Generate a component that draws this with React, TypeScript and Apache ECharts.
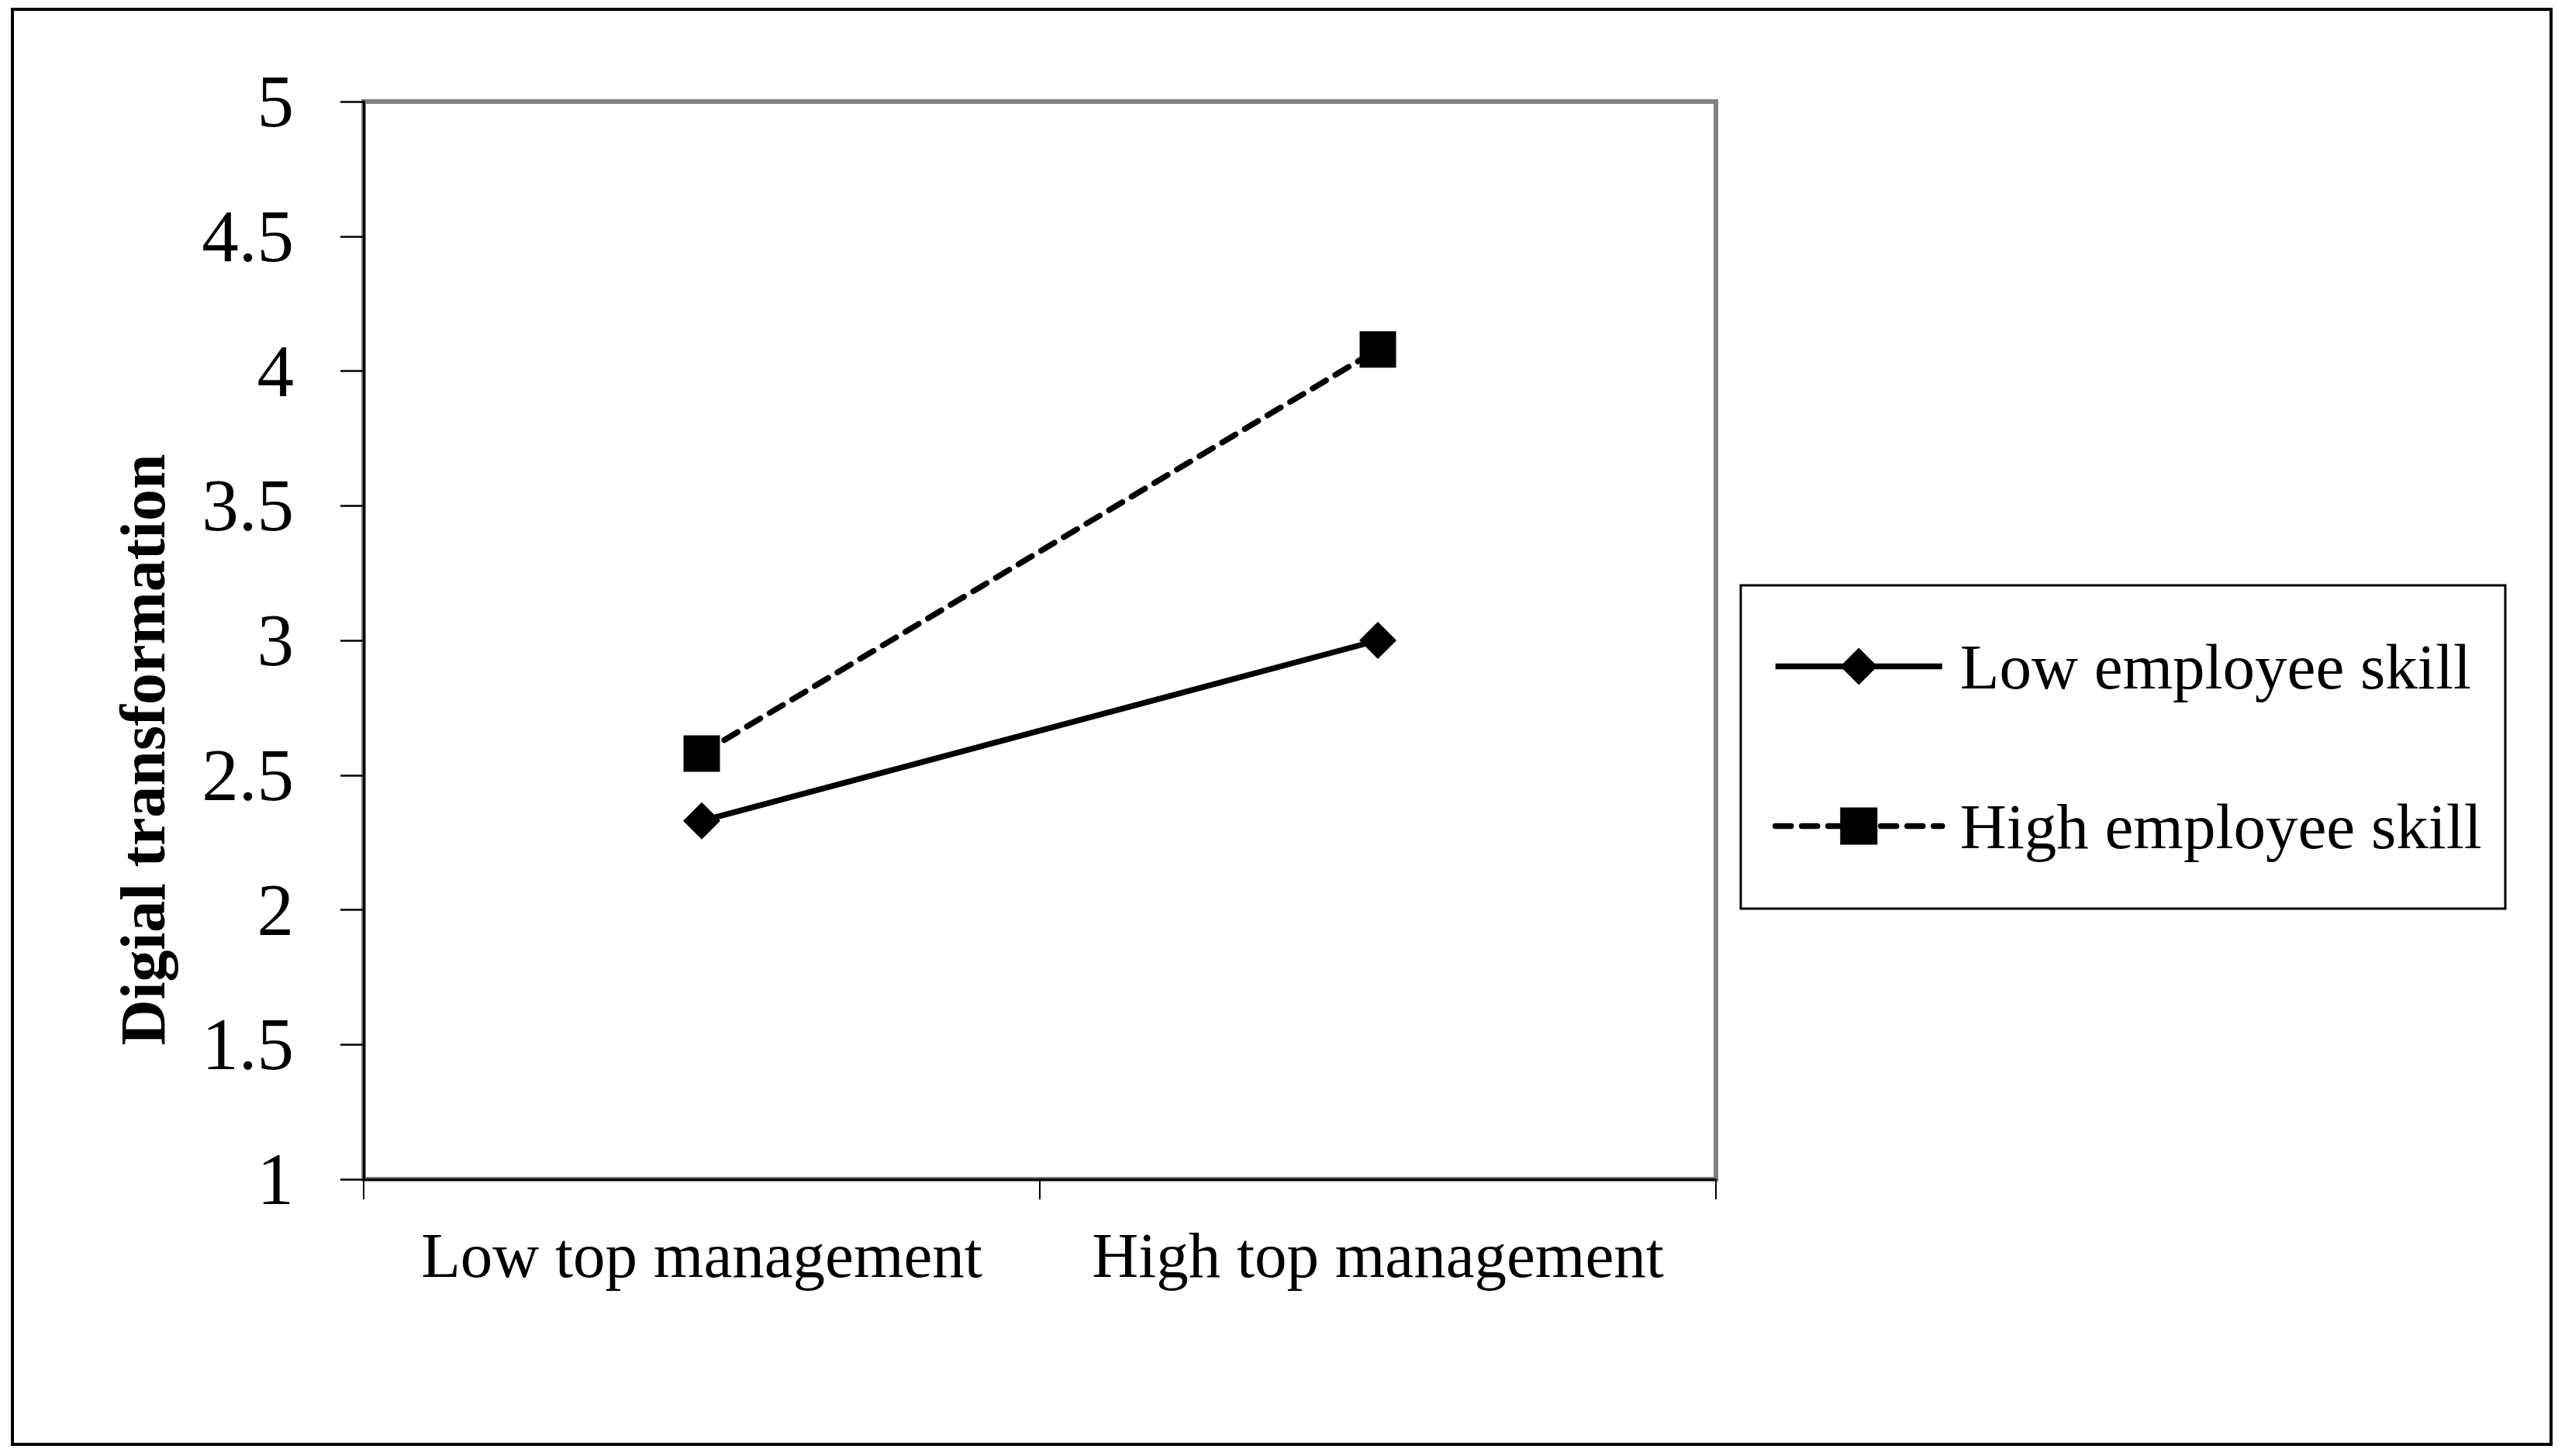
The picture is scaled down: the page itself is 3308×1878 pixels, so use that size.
import React, { useEffect, useRef } from "react";
import * as echarts from "echarts";

const categories = ["Low top management", "High top management"];
const lowSkill = [2.33, 3.0];
const highSkill = [2.58, 4.08];
const seriesNames = ["Low employee skill", "High employee skill"];
const yAxisTitle = "Digial transformation";

const FONT = '"Liberation Serif", "Times New Roman", serif';

export default function App() {
  const ref = useRef<HTMLDivElement>(null);
  useEffect(() => {
    if (!ref.current) return;
    const chart = echarts.init(ref.current, null, { renderer: "svg" });
    chart.setOption({
      animation: false,
      backgroundColor: "#ffffff",
      textStyle: { fontFamily: FONT, color: "#000" },
      grid: {
        left: 469,
        top: 131,
        width: 1744,
        height: 1390,
        show: true,
        borderColor: "#808080",
        borderWidth: 6,
        backgroundColor: "transparent",
      },
      legend: {
        orient: "vertical",
        left: 2286,
        top: 818,
        padding: 0,
        itemWidth: 215,
        itemHeight: 60,
        itemGap: 123,
        itemTextGap: 18,
        selectedMode: false,
        lineStyle: { width: 7.5 },
        textStyle: {
          fontFamily: FONT,
          fontSize: 83,
          lineHeight: 82,
          color: "#000",
          padding: [0, 0, 0, 18],
        },
        data: seriesNames,
      },
      xAxis: {
        type: "category",
        data: categories,
        boundaryGap: true,
        axisLine: { show: true, lineStyle: { color: "#000", width: 3 } },
        axisTick: { show: true, interval: 0, length: 26, lineStyle: { color: "#000", width: 2 } },
        axisLabel: { interval: 0, margin: 56, fontFamily: FONT, fontSize: 83, color: "#000" },
        splitLine: { show: false },
      },
      yAxis: {
        type: "value",
        min: 1,
        max: 5,
        interval: 0.5,
        name: yAxisTitle,
        nameLocation: "middle",
        nameRotate: 90,
        nameGap: 244,
        nameTextStyle: {
          fontFamily: FONT,
          fontSize: 82,
          fontWeight: "bold",
          color: "#000",
          padding: [0, 282, 0, 0],
        },
        axisLine: { show: true, lineStyle: { color: "#000", width: 3 } },
        axisTick: { show: true, length: 30, lineStyle: { color: "#000", width: 2.5 } },
        axisLabel: { margin: 90, fontFamily: FONT, fontSize: 95, color: "#000" },
        splitLine: { show: false },
      },
      series: [
        {
          name: seriesNames[0],
          type: "line",
          data: lowSkill,
          symbol: "diamond",
          symbolSize: 48,
          itemStyle: { color: "#000" },
          lineStyle: { color: "#000", width: 7.5, type: "solid" },
        },
        {
          name: seriesNames[1],
          type: "line",
          data: highSkill,
          symbol: "rect",
          symbolSize: 47,
          itemStyle: { color: "#000" },
          lineStyle: { color: "#000", width: 7.5, type: [20, 14], cap: "round" },
        },
      ],
      graphic: [
        {
          type: "rect",
          shape: { x: 16, y: 12, width: 3274, height: 1851 },
          style: { fill: "none", stroke: "#000", lineWidth: 4 },
          silent: true,
        },
        {
          type: "rect",
          shape: { x: 2245, y: 755, width: 986, height: 417 },
          style: { fill: "none", stroke: "#000", lineWidth: 3 },
          silent: true,
        },
      ],
    });
    return () => chart.dispose();
  }, []);
  return (
    <div
      ref={ref}
      style={{ position: "absolute", left: 0, top: 0, width: 3308, height: 1878 }}
    />
  );
}
